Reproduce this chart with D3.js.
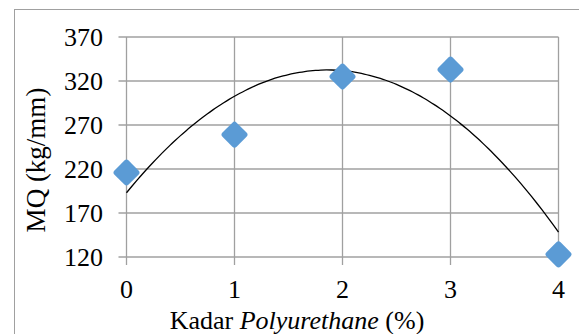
<!DOCTYPE html>
<html lang="en">
<head>
  <meta charset="UTF-8">
  <title>MQ vs Kadar Polyurethane</title>
  <script src="https://d3js.org/d3.v7.min.js"></script>
  <style>
    body { margin: 0; background: #fff; }
    text { font-family: "Liberation Serif", "Times New Roman", serif; fill: #000; }
  </style>
</head>
<body>
  <svg id="chart" width="579" height="334"></svg>
  <script>
    // data
    const kadar = [0, 1, 2, 3, 4];
    const mq = [216, 259, 325, 333, 123];
    const yTicks = [120, 170, 220, 270, 320, 370];
    const xTicks = [0, 1, 2, 3, 4];

    const svg = d3.select("#chart");
    const grid = "#a0a0a0";

    const x = d3.scaleLinear().domain([0, 4]).range([126.5, 558.5]);
    const y = d3.scaleLinear().domain([120, 370]).range([257, 37]);

    // outer chart border (right/bottom are cut off in the picture)
    svg.append("rect")
      .attr("x", 14.5).attr("y", 9.5)
      .attr("width", 600).attr("height", 400)
      .attr("fill", "none").attr("stroke", grid).attr("stroke-width", 1);

    // horizontal grid + y ticks
    svg.append("g").selectAll("line")
      .data(yTicks)
      .join("line")
      .attr("x1", x(0) - 8).attr("x2", x(4))
      .attr("y1", d => y(d)).attr("y2", d => y(d))
      .attr("stroke", grid).attr("stroke-width", 1.3);

    // vertical grid + x ticks
    svg.append("g").selectAll("line")
      .data(xTicks)
      .join("line")
      .attr("x1", d => x(d)).attr("x2", d => x(d))
      .attr("y1", y(370)).attr("y2", y(120) + 8)
      .attr("stroke", grid).attr("stroke-width", 1.3);

    // tick labels
    svg.append("g").selectAll("text")
      .data(yTicks)
      .join("text")
      .attr("x", 103).attr("y", d => y(d))
      .attr("dy", "0.35em")
      .attr("text-anchor", "end")
      .style("font-size", "26px")
      .text(d => d);

    svg.append("g").selectAll("text")
      .data(xTicks)
      .join("text")
      .attr("x", d => x(d)).attr("y", 298)
      .attr("text-anchor", "middle")
      .style("font-size", "26px")
      .text(d => d);

    // axis titles
    svg.append("text")
      .attr("transform", "translate(45,160) rotate(-90)")
      .attr("text-anchor", "middle")
      .style("font-size", "27px")
      .text("MQ (kg/mm)");

    const xt = svg.append("text")
      .attr("x", 297).attr("y", 329)
      .attr("text-anchor", "middle")
      .style("font-size", "26px");
    xt.append("tspan").text("Kadar ");
    xt.append("tspan").style("font-style", "italic").text("Polyurethane");
    xt.append("tspan").text(" (%)");

    // polynomial (order 2) trendline, least squares fit of the points
    function polyFit2(xs, ys) {
      const n = xs.length;
      let s = [0, 0, 0, 0, 0], t = [0, 0, 0];
      for (let i = 0; i < n; i++) {
        for (let k = 0; k < 5; k++) s[k] += Math.pow(xs[i], k);
        for (let k = 0; k < 3; k++) t[k] += ys[i] * Math.pow(xs[i], k);
      }
      const A = [[s[0], s[1], s[2], t[0]], [s[1], s[2], s[3], t[1]], [s[2], s[3], s[4], t[2]]];
      for (let c = 0; c < 3; c++) {
        for (let r = c + 1; r < 3; r++) {
          const f = A[r][c] / A[c][c];
          for (let k = c; k < 4; k++) A[r][k] -= f * A[c][k];
        }
      }
      const b = [0, 0, 0];
      for (let r = 2; r >= 0; r--) {
        let v = A[r][3];
        for (let k = r + 1; k < 3; k++) v -= A[r][k] * b[k];
        b[r] = v / A[r][r];
      }
      return b;
    }
    const coef = polyFit2(kadar, mq);
    const trend = d3.range(0, 4.0001, 0.05).map(v => [v, coef[0] + coef[1] * v + coef[2] * v * v]);

    svg.append("path")
      .datum(trend)
      .attr("d", d3.line().x(d => x(d[0])).y(d => y(d[1])).curve(d3.curveMonotoneX))
      .attr("fill", "none")
      .attr("stroke", "#000")
      .attr("stroke-width", 1.3);

    // diamond markers
    svg.append("g").selectAll("rect")
      .data(kadar.map((k, i) => [k, mq[i]]))
      .join("rect")
      .attr("x", -10).attr("y", -10)
      .attr("width", 20).attr("height", 20)
      .attr("rx", 3).attr("ry", 3)
      .attr("transform", d => `translate(${x(d[0])},${y(d[1])}) rotate(45)`)
      .attr("fill", "#5b9bd5");
  </script>
</body>
</html>
